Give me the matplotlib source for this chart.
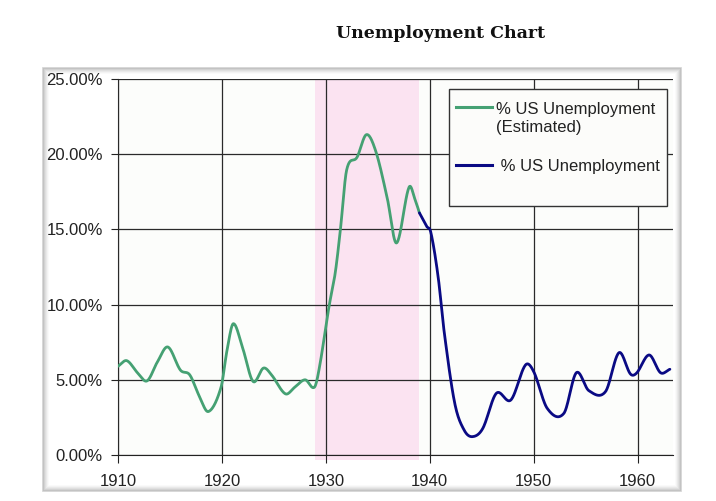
import matplotlib
matplotlib.use("Agg")
import matplotlib.pyplot as plt
import numpy as np
from matplotlib.patches import Rectangle
from matplotlib.lines import Line2D
from matplotlib.ticker import FuncFormatter, MultipleLocator

# values (year, % unemployed)
est_years = [1910.0, 1910.85, 1911.9, 1912.8, 1913.8, 1914.8, 1916.0, 1916.9, 1917.8,
             1918.7, 1919.9, 1920.5, 1921.1, 1922.0, 1923.0, 1924.0, 1924.8, 1926.1,
             1927.0, 1928.0, 1928.9, 1929.4, 1930.3, 1930.9, 1931.4, 1932.0, 1933.0,
             1933.9, 1934.8, 1935.9, 1936.8, 1938.0, 1938.6, 1939.0]
est_rate = [5.9, 6.27, 5.45, 4.93, 6.2, 7.18, 5.65, 5.33, 3.95,
            2.89, 4.47, 7.0, 8.73, 7.1, 4.89, 5.78, 5.3, 4.07,
            4.5, 5.0, 4.51, 5.9, 9.86, 12.1, 15.0, 18.95, 19.8,
            21.3, 20.2, 17.1, 14.1, 17.8, 16.95, 16.1]

bls_years = [1939.0, 1939.7, 1940.1, 1940.8, 1941.4, 1942.4, 1943.3, 1944.1, 1945.1,
             1946.4, 1947.8, 1949.2, 1950.0, 1951.3, 1952.9, 1954.1, 1955.3, 1956.9,
             1958.2, 1959.3, 1959.9, 1961.1, 1962.2, 1963.1]
bls_rate = [16.1, 15.2, 14.8, 11.86, 8.1, 3.44, 1.66, 1.22, 1.77,
            4.1, 3.66, 5.98, 5.54, 3.1, 2.77, 5.47, 4.28, 4.21,
            6.8, 5.39, 5.45, 6.65, 5.47, 5.7]

depression_start, depression_end = 1929, 1939
labels = ["% US Unemployment\n(Estimated)", " % US Unemployment"]


def smooth(x, y, n=25):
    # cubic hermite with catmull-rom style slopes, like a smoothed excel line
    x = np.asarray(x, float)
    y = np.asarray(y, float)
    m = np.empty_like(y)
    m[1:-1] = (y[2:] - y[:-2]) / (x[2:] - x[:-2])
    m[0] = (y[1] - y[0]) / (x[1] - x[0])
    m[-1] = (y[-1] - y[-2]) / (x[-1] - x[-2])
    xs, ys = [], []
    for i in range(len(x) - 1):
        h = x[i + 1] - x[i]
        t = np.linspace(0, 1, n, endpoint=False)
        h00 = 2 * t**3 - 3 * t**2 + 1
        h10 = t**3 - 2 * t**2 + t
        h01 = -2 * t**3 + 3 * t**2
        h11 = t**3 - t**2
        xs.append(x[i] + t * h)
        ys.append(h00 * y[i] + h10 * h * m[i] + h01 * y[i + 1] + h11 * h * m[i + 1])
    xs.append([x[-1]])
    ys.append([y[-1]])
    return np.concatenate(xs), np.concatenate(ys)


green = "#45a173"
navy = "#0a0a84"

fig = plt.figure(figsize=(7.16, 5.01), dpi=100)
W, H = 716, 501

# paper frame with a soft grey inner shadow
fx0, fy0, fx1, fy1 = 43, 68, 681, 491
for k, a in enumerate([0.30, 0.22, 0.15, 0.10, 0.06, 0.03]):
    fig.patches.append(Rectangle(((fx0 + k) / W, 1 - (fy1 - k) / H),
                                 (fx1 - fx0 - 2 * k) / W, (fy1 - fy0 - 2 * k) / H,
                                 transform=fig.transFigure, fill=False,
                                 edgecolor=(0.4, 0.4, 0.4, a), lw=1.2, zorder=0))

fig.text(441 / W, 1 - 33 / H, "Unemployment Chart", ha="center", va="center",
         family="DejaVu Serif", fontweight="bold", fontsize=12.5, color="#111111")

ax = fig.add_axes([118 / W, 1 - 455 / H, 555 / W, 376 / H])
ax.set_facecolor("#fcfdfb")

ax.axvspan(depression_start, depression_end, ymin=-0.012, ymax=1, color="#fbe3f1",
           zorder=1, clip_on=False, lw=0)

xg, yg = smooth(est_years, est_rate)
xb, yb = smooth(bls_years, bls_rate)
ax.plot(xg, yg, color=green, lw=2.0, zorder=3, solid_capstyle="round")
ax.plot(xb, yb, color=navy, lw=2.0, zorder=3, solid_capstyle="round")

ax.set_xlim(1910, 1963.4)
ax.set_ylim(0, 25)
ax.xaxis.set_major_locator(MultipleLocator(10))
ax.yaxis.set_major_locator(MultipleLocator(5))
ax.yaxis.set_major_formatter(FuncFormatter(lambda v, p: "%.2f%%" % v))
ax.grid(True, color="#2a2a2a", lw=0.9, zorder=2)
ax.set_axisbelow(False)

for s in ["top", "right"]:
    ax.spines[s].set_visible(False)
ax.spines["left"].set_color("#222222")
ax.spines["bottom"].set_color("#222222")
ax.tick_params(axis="x", length=6, pad=8, labelsize=12, colors="#222222")
ax.tick_params(axis="y", length=5, pad=6, labelsize=12, colors="#222222")
for lab in ax.get_xticklabels() + ax.get_yticklabels():
    lab.set_family("Liberation Sans")

# legend box drawn by hand to get its roomy Excel shape
lx0, ly0 = (449 - 118) / 555, (455 - 206) / 376
lw_, lh_ = (667 - 449) / 555, (206 - 89) / 376
ax.add_patch(Rectangle((lx0, ly0), lw_, lh_, transform=ax.transAxes,
                       facecolor="#fcfcfa", edgecolor="#333333", lw=1.0, zorder=5))
for yy, col in [((455 - 107) / 376, green), ((455 - 165) / 376, navy)]:
    ax.add_line(Line2D([(456 - 118) / 555, (492 - 118) / 555], [yy, yy],
                       transform=ax.transAxes, color=col, lw=2.2, zorder=6))
ax.text((496 - 118) / 555, (455 - 118) / 376, labels[0], transform=ax.transAxes,
        ha="left", va="center", fontsize=12, family="Liberation Sans", color="#222222",
        linespacing=1.25, zorder=6)
ax.text((496 - 118) / 555, (455 - 166) / 376, labels[1], transform=ax.transAxes,
        ha="left", va="center", fontsize=12, family="Liberation Sans", color="#222222",
        zorder=6)

fig.savefig("out.png", dpi=100)
